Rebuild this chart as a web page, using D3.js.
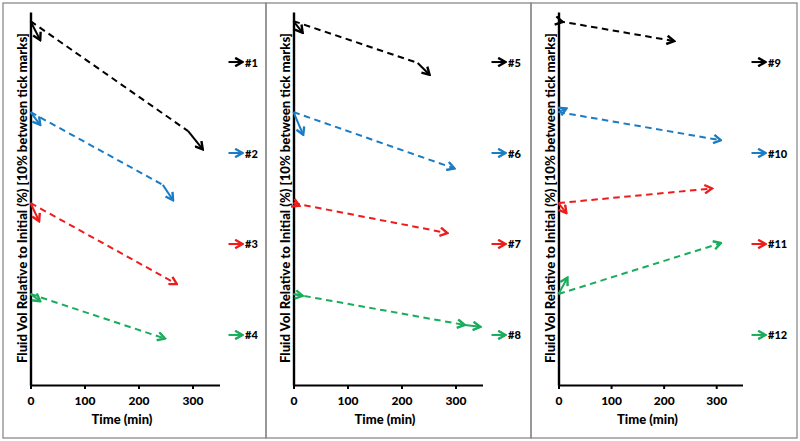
<!DOCTYPE html>
<html>
<head>
<meta charset="utf-8">
<script src="https://cdn.jsdelivr.net/npm/d3@7"></script>
<style>
  html, body { margin: 0; padding: 0; background: #fff; }
  text { font-family: Lato, "Open Sans", "Liberation Sans", sans-serif; font-weight: 900; fill: #000; }
</style>
</head>
<body>
<script>
// ---------------- DATA ----------------
const seriesNames = ["#1","#2","#3","#4","#5","#6","#7","#8","#9","#10","#11","#12"];
const panelSeries = [[0,1,2,3],[4,5,6,7],[8,9,10,11]];
const xTicks = [0, 100, 200, 300];
const xMax = 350;
const yLabel = "Fluid Vol Relative to Initial (%) [10% between tick marks]";
const xLabel = "Time (min)";
// vertical offset (in %) of each row within a panel (10% between tick marks)
const rowOffsets = [0, -10, -20, -30];
// time points (min): start, end of initial step, end of dashed trend, optional final step
const seriesTimes = [
  [0, 18, 292, 319],
  [0, 18, 245, 264],
  [0, 16, 271],
  [0, 18, 249],
  [0, 17, 230, 252],
  [0, 18, 298],
  [0, 11, 285],
  [0, 17, 317, 346],
  [0, 8, 220],
  [0, 15, 309],
  [0, 15, 292],
  [0, 17, 309]
];
// fluid volume relative to initial (%)
const seriesVols = [
  [100, 97.9, 87.9, 85.9],
  [100, 98.6, 92.0, 90.3],
  [100, 98.0, 91.1],
  [100, 99.2, 95.1],
  [100, 98.7, 95.4, 94.1],
  [100, 97.5, 93.8],
  [100, 99.7, 96.7],
  [100, 99.8, 96.6, 96.4],
  [100, 99.9, 97.8],
  [100, 100.4, 96.9],
  [100, 98.9, 101.6],
  [100, 101.8, 105.6]
];
const midArrow = [false,false,false,false,false,false,false,true,false,false,false,false];

// ---------------- STYLE / LAYOUT ----------------
const rowColors = ["#000000", "#1a7cc4", "#ee1c1c", "#1aac5c"];
const W = 800, H = 441;
const panelLeft = [3, 266, 531];
const panelRight = [266, 531, 797];
const axisLen = [189, 189, 184];
const axisInset = 27.5;
const yTop = 12, yBottom = 385;

const svg = d3.select("body").append("svg")
  .attr("width", W).attr("height", H)
  .style("display", "block");

svg.append("rect").attr("width", W).attr("height", H).attr("fill", "#fff");

const defs = svg.append("defs");
rowColors.forEach((c, i) => {
  defs.append("marker")
    .attr("id", "arr" + i)
    .attr("viewBox", "0 0 10 10")
    .attr("refX", 8.5).attr("refY", 5)
    .attr("markerWidth", 10.5).attr("markerHeight", 10.5)
    .attr("markerUnits", "userSpaceOnUse")
    .attr("orient", "auto")
    .append("path")
    .attr("d", "M1.5,1 L8.5,5 L1.5,9")
    .attr("fill", "none")
    .attr("stroke", c)
    .attr("stroke-width", 2.3)
    .attr("stroke-dasharray", "none")
    .attr("stroke-linejoin", "miter");
});

const y = d3.scaleLinear().domain([-40, 1]).range([yBottom, yTop]);

panelSeries.forEach((list, p) => {
  const left = panelLeft[p];
  const g = svg.append("g");
  // panel border
  g.append("rect")
    .attr("x", left).attr("y", 3)
    .attr("width", panelRight[p] - left).attr("height", 435)
    .attr("fill", "none").attr("stroke", "#8a8a8a").attr("stroke-width", 1.3);

  const x0 = left + axisInset;
  const x = d3.scaleLinear().domain([0, xMax]).range([x0, x0 + axisLen[p]]);

  // x axis
  const xAxis = d3.axisBottom(x).tickValues(xTicks).tickSize(4).tickPadding(7).tickSizeOuter(0);
  const ax = g.append("g").attr("transform", `translate(0,${yBottom})`).call(xAxis);
  ax.select(".domain").attr("stroke", "#000").attr("stroke-width", 2.2);
  ax.selectAll(".tick line").attr("stroke", "#000").attr("stroke-width", 2);
  ax.selectAll(".tick text").style("font-size", "12px").style("font-family", null).attr("fill", "#000");

  // y axis (no labelled ticks)
  const yAxis = d3.axisLeft(y).tickValues([]).tickSizeOuter(0);
  const ay = g.append("g").attr("transform", `translate(${x0},0)`).call(yAxis);
  ay.select(".domain").attr("stroke", "#000").attr("stroke-width", 2.4);

  // axis titles
  g.append("text")
    .attr("x", x(175) - 3).attr("y", 424)
    .attr("text-anchor", "middle")
    .style("font-size", "13px")
    .text(xLabel);
  g.append("text")
    .attr("transform", `translate(${x0 - 8.5},198) rotate(-90)`)
    .attr("text-anchor", "middle")
    .attr("dominant-baseline", "central")
    .attr("textLength", 330)
    .attr("lengthAdjust", "spacingAndGlyphs")
    .style("font-size", "13px")
    .text(yLabel);

  list.forEach((si, r) => {
    const col = rowColors[r];
    const off = rowOffsets[r];
    const pts = seriesTimes[si].map((t, k) => [x(t), y(seriesVols[si][k] - 100 + off)]);
    const line = d3.line();
    // dashed trend from start to end of trend
    const dashed = g.append("path")
      .attr("d", line([pts[0], pts[2]]))
      .attr("fill", "none").attr("stroke", col)
      .attr("stroke-width", 2).attr("stroke-dasharray", "6.5,4.5");
    if (pts.length === 3 || midArrow[si]) dashed.attr("marker-end", `url(#arr${r})`);
    // initial step (solid arrow)
    g.append("path")
      .attr("d", line([pts[0], pts[1]]))
      .attr("fill", "none").attr("stroke", col).attr("stroke-width", 2)
      .attr("marker-end", `url(#arr${r})`);
    // final step (solid arrow)
    if (pts.length > 3) {
      g.append("path")
        .attr("d", line([pts[2], pts[3]]))
        .attr("fill", "none").attr("stroke", col).attr("stroke-width", 2)
        .attr("marker-end", `url(#arr${r})`);
    }
    // legend on the right
    const ly = y(off - 4.5);
    const axEnd = x(xMax);
    g.append("path")
      .attr("d", line([[axEnd + 9, ly], [axEnd + 23, ly]]))
      .attr("stroke", col).attr("stroke-width", 2)
      .attr("marker-end", `url(#arr${r})`);
    g.append("text")
      .attr("x", axEnd + 25.5).attr("y", ly)
      .attr("dominant-baseline", "central")
      .style("font-size", "11px")
      .text(seriesNames[si]);
  });
});
</script>
</body>
</html>
